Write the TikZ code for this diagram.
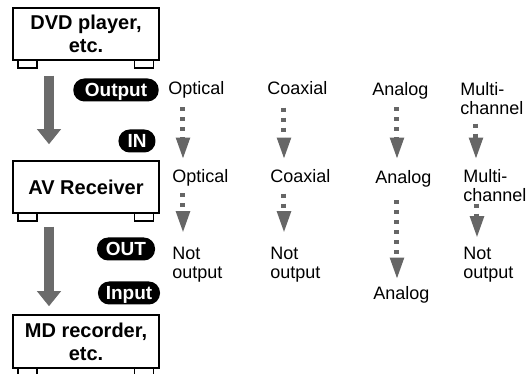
\documentclass[tikz,border=0pt]{standalone}
\usepackage{fontspec}
\setmainfont{Liberation Sans}
\usepackage{tikz}
\usetikzlibrary{arrows.meta, positioning, calc}
\definecolor{signalgray}{HTML}{666666}
\definecolor{flowgray}{HTML}{6B6B6B}
\tikzset{
  unit/.style={rectangle, draw=black, line width=0.75pt, fill=white, minimum width=73pt, minimum height=26pt, inner sep=0pt, align=center, font=\fontsize{10}{11.5}\selectfont\bfseries},
  foot/.style={draw=black, line width=0.75pt, fill=white},
  tag/.style={rectangle, rounded corners=5.6pt, fill=black, text=white, minimum height=11.5pt, inner xsep=4.5pt, inner ysep=0pt, text height=6.8pt, text depth=0pt, font=\fontsize{9.5}{10}\selectfont\bfseries},
  lbl/.style={inner sep=0pt, anchor=base west, align=left, font=\fontsize{9}{9.5}\selectfont},
  bigarr/.style={-{Triangle[length=7.5pt, width=11.5pt]}, line width=5pt, flowgray},
  sigarr/.style={-{Triangle[length=11pt, width=6.5pt]}, line width=2.5pt, signalgray, dash pattern=on 2pt off 3pt},
}

\begin{document}
\begin{tikzpicture}[x=0.5pt, y=-0.5pt]
  \useasboundingbox (0,0) rectangle (532,374);

  % Devices
  \node[unit] (dvd) at (86,34) {DVD player,\\etc.};
  \node[unit] (avr) at (86,187) {AV Receiver};
  \node[unit, minimum height=26.5pt] (md) at (86,341.5) {MD recorder,\\etc.};

  \foreach \b in {dvd,avr,md} {
    \draw[foot] ([xshift=3pt]\b.south west) rectangle ++(9.5pt,-3.7pt);
    \draw[foot] ([xshift=-3pt]\b.south east) rectangle ++(-9.5pt,-3.7pt);
  }

  % Connection tags
  \node[tag, inner xsep=5.8pt] (outA) at (116,90) {Output};
  \node[tag] (inB) at (137,141) {IN};
  \node[tag] (outB) at (126,249) {OUT};
  \node[tag, inner xsep=3.9pt] (inC) at (129,293) {Input};

  % Signal labels (multi-line ones sit on their last line)
  \node[lbl] (opt1) at (168,95) {Optical};
  \node[lbl] (coa1) at (267,95) {Coaxial};
  \node[lbl] (ana1) at (372,96) {Analog};
  \node[lbl] (mul1) at (460,115) {Multi-\\channel};

  \node[lbl] (opt2) at (172,183) {Optical};
  \node[lbl] (coa2) at (270,183) {Coaxial};
  \node[lbl] (ana2) at (375,184) {Analog};
  \node[lbl] (mul2) at (463,202) {Multi-\\channel};

  \node[lbl] (not1) at (172,279) {Not\\output};
  \node[lbl] (not2) at (270,279) {Not\\output};
  \node[lbl] (ana3) at (373,300) {Analog};
  \node[lbl] (not3) at (463,279) {Not\\output};

  % Device flow
  \draw[bigarr, shorten <=7.5pt, shorten >=8pt] ([xshift=-18.5pt]dvd.south) -- ([xshift=-18.5pt]avr.north);
  \draw[bigarr, shorten <=6.5pt, shorten >=4pt] ([xshift=-18.5pt]avr.south) -- ([xshift=-18.5pt]md.north);

  % Signal paths
  \foreach \a/\b/\x/\s/\e in {opt1/opt2/183/4/5, coa1/coa2/284/6/5, ana1/ana2/397/3.5/5.5, mul1/mul2/476/4/5,
      opt2/not1/183/3/7, coa2/not2/284/5/7, ana2/ana3/397/6/3.5, mul2/not3/477/0.5/4.5} {
    \draw[sigarr, shorten <=\s pt, shorten >=\e pt] (\a.south -| \x,0) -- (\b.north -| \x,0);
  }
\end{tikzpicture}
\end{document}
